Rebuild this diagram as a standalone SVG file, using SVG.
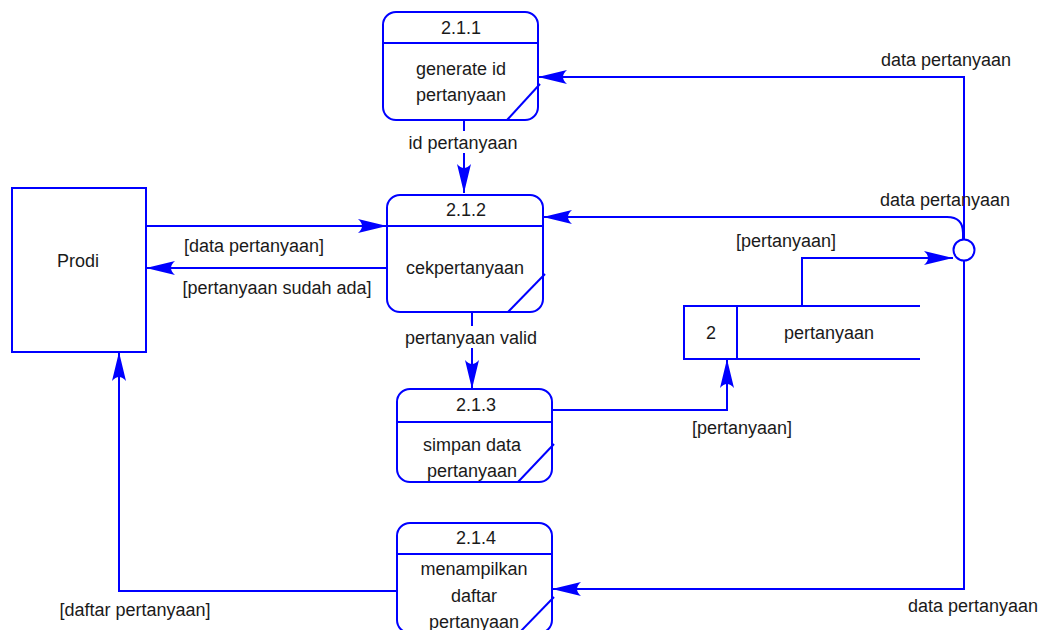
<svg xmlns="http://www.w3.org/2000/svg" width="1048" height="630" viewBox="0 0 1048 630">
  <style>
    .shape { fill: #ffffff; stroke: #0000ff; stroke-width: 2; }
    .line { fill: none; stroke: #0000ff; stroke-width: 2; }
    .bg { fill: #ffffff; stroke: none; }
    text { font-family: "Liberation Sans", Arial, sans-serif; font-size: 18px; fill: #1a1a1a; text-anchor: middle; }
  </style>
  <defs>
    <marker id="arrow" markerUnits="userSpaceOnUse" markerWidth="32" markerHeight="18" viewBox="-30 -9 32 18" refX="0" refY="0" orient="auto">
      <path d="M0,0 L-29,-7 Q-21,0 -29,7 Z" fill="#0000ff"/>
    </marker>
  </defs>
  <rect width="1048" height="630" fill="#ffffff"/>

  <!-- connectors -->
  <g id="connectors">
    <!-- 2.1.1 -> 2.1.2 -->
    <path class="line" d="M464,120 L464,193" marker-end="url(#arrow)"/>
    <!-- Prodi -> 2.1.2 -->
    <path class="line" d="M146,226 L387,226" marker-end="url(#arrow)"/>
    <!-- 2.1.2 -> Prodi -->
    <path class="line" d="M387,268 L146,268" marker-end="url(#arrow)"/>
    <!-- 2.1.2 -> 2.1.3 -->
    <path class="line" d="M472,312 L472,389" marker-end="url(#arrow)"/>
    <!-- 2.1.3 -> store -->
    <path class="line" d="M552,410 L727,410 L727,359" marker-end="url(#arrow)"/>
    <!-- store -> junction -->
    <path class="line" d="M802,306 L802,258 L953,258" marker-end="url(#arrow)"/>
    <!-- junction -> 2.1.1 -->
    <path class="line" d="M964,240 L964,77 L538,77" marker-end="url(#arrow)"/>
    <!-- junction -> 2.1.2 -->
    <path class="line" d="M963,240 L963,233 Q963,217 947,217 L543,217" marker-end="url(#arrow)"/>
    <!-- junction -> 2.1.4 -->
    <path class="line" d="M964,260 L964,589 L552,589" marker-end="url(#arrow)"/>
    <!-- 2.1.4 -> Prodi -->
    <path class="line" d="M397,591 L119,591 L119,352" marker-end="url(#arrow)"/>
    <!-- junction -->
    <circle class="shape" cx="964" cy="250" r="10.5"/>
  </g>

  <!-- connector labels -->
  <g id="labels">
    <rect class="bg" x="405" y="131" width="117" height="22"/>
    <text x="463" y="149">id pertanyaan</text>
    <text x="254" y="252">[data pertanyaan]</text>
    <text x="277" y="294">[pertanyaan sudah ada]</text>
    <rect class="bg" x="402" y="326" width="139" height="22"/>
    <text x="471" y="344">pertanyaan valid</text>
    <text x="742" y="434">[pertanyaan]</text>
    <text x="786" y="247">[pertanyaan]</text>
    <text x="946" y="66">data pertanyaan</text>
    <text x="945" y="206">data pertanyaan</text>
    <text x="973" y="612">data pertanyaan</text>
    <text x="135" y="616">[daftar pertanyaan]</text>
  </g>

  <!-- external entity -->
  <g id="prodi">
    <rect class="shape" x="12" y="188" width="134" height="164"/>
    <text x="78" y="267">Prodi</text>
  </g>

  <!-- processes -->
  <g id="p211">
    <rect class="shape" x="383" y="12" width="155" height="108" rx="13"/>
    <line class="line" x1="383" y1="43" x2="538" y2="43"/>
    <line class="line" x1="507" y1="120" x2="540" y2="84"/>
    <text x="461" y="34">2.1.1</text>
    <text x="461" y="75">generate id</text>
    <text x="461" y="101">pertanyaan</text>
  </g>

  <g id="p212">
    <rect class="shape" x="387" y="195" width="156" height="117" rx="13"/>
    <line class="line" x1="387" y1="226" x2="543" y2="226"/>
    <line class="line" x1="508" y1="312" x2="545" y2="274"/>
    <text x="466" y="216">2.1.2</text>
    <text x="465" y="274">cekpertanyaan</text>
  </g>

  <g id="p213">
    <rect class="shape" x="397" y="389" width="155" height="93" rx="13"/>
    <line class="line" x1="397" y1="422" x2="552" y2="422"/>
    <line class="line" x1="518" y1="482" x2="554" y2="444"/>
    <text x="476" y="411">2.1.3</text>
    <text x="472" y="451">simpan data</text>
    <text x="472" y="477">pertanyaan</text>
  </g>

  <g id="p214">
    <rect class="shape" x="397" y="523" width="155" height="110" rx="13"/>
    <line class="line" x1="397" y1="554" x2="552" y2="554"/>
    <line class="line" x1="520" y1="632" x2="554" y2="597"/>
    <text x="476" y="544">2.1.4</text>
    <text x="474" y="575">menampilkan</text>
    <text x="474" y="602">daftar</text>
    <text x="474" y="628">pertanyaan</text>
  </g>

  <!-- data store -->
  <g id="store2">
    <path class="shape" d="M920,306 L684,306 L684,359 L920,359"/>
    <line class="line" x1="737" y1="306" x2="737" y2="359"/>
    <text x="711" y="339">2</text>
    <text x="829" y="339">pertanyaan</text>
  </g>
</svg>
